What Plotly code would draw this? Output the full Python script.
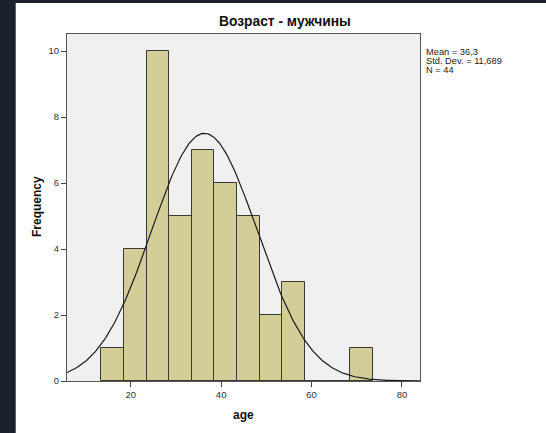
import numpy as np
import plotly.graph_objects as go

# Data
bin_centers = [16, 21, 26, 31, 36, 41, 46, 51, 56, 61, 66, 71]
counts = [1, 4, 10, 5, 7, 6, 5, 2, 3, 0, 0, 1]
bin_width = 5
mean_age = 36.3
sd_age = 11.689
n_total = 44
x_ticks = [20, 40, 60, 80]
y_ticks = [0, 2, 4, 6, 8, 10]

title_text = "Возраст - мужчины"
stats_lines = ["Mean = 36,3", "Std. Dev. = 11,689", "N = 44"]

W, H = 546, 433
L, R, T, B = 67, 126, 34, 52
pw, ph = W - L - R, H - T - B

def px_to_paper_x(px):
    return (px - L) / pw

def py_to_paper_y(py):
    return (H - B - py) / ph

FONT = "Arial, Liberation Sans, sans-serif"

fig = go.Figure()
fig.add_trace(go.Bar(
    x=bin_centers, y=counts, width=bin_width,
    marker=dict(color="#d3ce97", line=dict(color="#3a3a32", width=1)),
    showlegend=False, hoverinfo="x+y",
))

xs = np.linspace(5.9, 84.0, 300)
ys = n_total * bin_width / (sd_age * np.sqrt(2 * np.pi)) * np.exp(-0.5 * ((xs - mean_age) / sd_age) ** 2)
fig.add_trace(go.Scatter(x=xs, y=ys, mode="lines",
                         line=dict(color="#1a1a1a", width=1.2),
                         showlegend=False, hoverinfo="skip"))

fig.update_layout(
    width=W, height=H,
    margin=dict(l=L, r=R, t=T, b=B, pad=0),
    paper_bgcolor="white", plot_bgcolor="#f0f0f0",
    font=dict(family=FONT, color="#333333", size=9),
    bargap=0,
)
fig.update_xaxes(range=[5.9, 84.0], tickvals=x_ticks, ticks="outside", ticklen=5,
                 tickcolor="#444", showgrid=False, zeroline=False,
                 showline=True, linecolor="#555", linewidth=1, mirror=True,
                 tickfont=dict(size=9.5, color="#333"))
fig.update_yaxes(range=[0, 10.52], tickvals=y_ticks, ticks="outside", ticklen=5,
                 tickcolor="#444", showgrid=False, zeroline=False,
                 showline=True, linecolor="#555", linewidth=1, mirror=True,
                 tickfont=dict(size=9.5, color="#333"))

# dark frame strips (left and top)
fig.add_shape(type="rect", xref="paper", yref="paper",
              x0=px_to_paper_x(-2), x1=px_to_paper_x(15.7),
              y0=py_to_paper_y(440), y1=py_to_paper_y(-2),
              fillcolor="#1c222d", line=dict(width=0), layer="below")
fig.add_shape(type="rect", xref="paper", yref="paper",
              x0=px_to_paper_x(-2), x1=px_to_paper_x(550),
              y0=py_to_paper_y(3), y1=py_to_paper_y(-2),
              fillcolor="#1c222d", line=dict(width=0), layer="below")

annos = [
    dict(text="<b>" + title_text + "</b>", x=px_to_paper_x(285), y=py_to_paper_y(21),
         font=dict(size=13.8, color="#111"), xanchor="center", yanchor="middle"),
    dict(text="<b>age</b>", x=px_to_paper_x(243.5), y=py_to_paper_y(415),
         font=dict(size=12, color="#111"), xanchor="center", yanchor="middle"),
    dict(text="<b>Frequency</b>", x=px_to_paper_x(37), y=py_to_paper_y(207),
         font=dict(size=12, color="#111"), xanchor="center", yanchor="middle", textangle=-90),
]
for i, line in enumerate(stats_lines):
    annos.append(dict(text=line, x=px_to_paper_x(424), y=py_to_paper_y(51.5 + 9.2 * i),
                      font=dict(size=9.3, color="#222"), xanchor="left", yanchor="middle"))
for a in annos:
    fig.add_annotation(xref="paper", yref="paper", showarrow=False, **a)

fig.write_html("out.html", config={"displayModeBar": False},
               post_script="document.body.style.margin='0';document.body.style.overflow='hidden';")
